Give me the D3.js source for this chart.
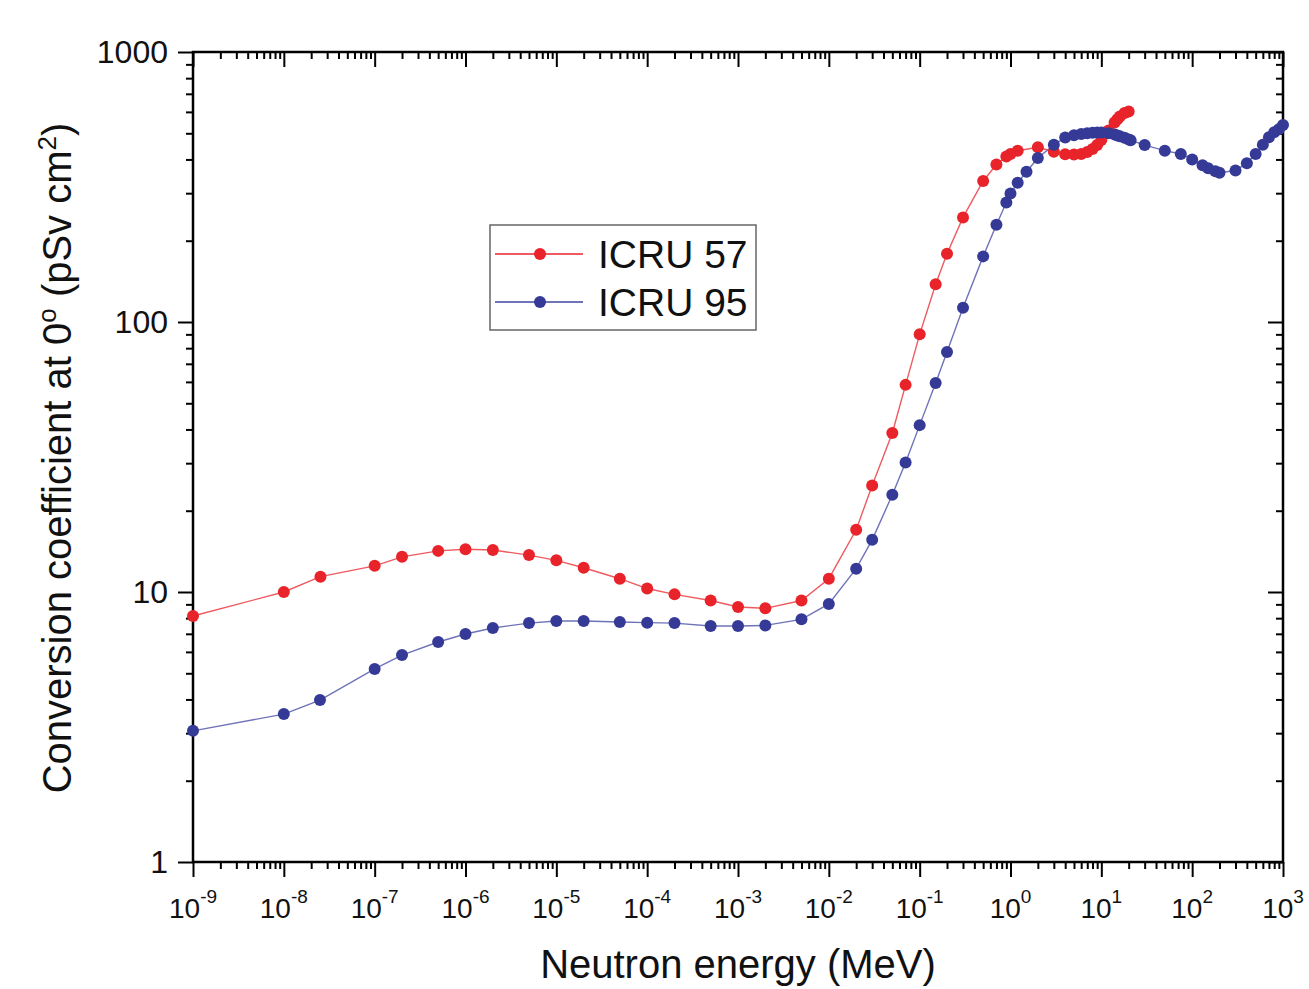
<!DOCTYPE html>
<html>
<head>
<meta charset="utf-8">
<script src="https://cdn.jsdelivr.net/npm/d3@7"></script>
<style>
  body { margin: 0; background: #fff; }
  svg { display: block; font-family: "Liberation Sans", Arial, sans-serif; }
</style>
</head>
<body>
<svg id="chart" width="1309" height="989"></svg>
<script>
// Neutron fluence-to-dose conversion coefficients at 0 degrees, ICRU 57 vs ICRU 95

// ICRU 57 series (energy in MeV, coefficient in pSv cm2)
const energies57 = [1e-9, 1e-8, 2.53e-8, 1e-7, 2e-7, 5e-7, 1e-6, 2e-6, 5e-6, 1e-5, 2e-5, 5e-5,
  1e-4, 2e-4, 5e-4, 1e-3, 2e-3, 5e-3, 1e-2, 2e-2, 3e-2, 5e-2, 7e-2, 0.1, 0.15, 0.2, 0.3, 0.5,
  0.7, 0.9, 1, 1.2, 2, 3, 4, 5, 6, 7, 8, 9, 10, 12, 14, 15, 16, 18, 20];
const values57 = [8.15, 10.0, 11.4, 12.5, 13.5, 14.2, 14.4, 14.3, 13.7, 13.1, 12.3, 11.2,
  10.3, 9.8, 9.3, 8.8, 8.7, 9.3, 11.2, 17.0, 24.8, 38.8, 58.5, 90, 138, 179, 244, 333,
  383, 410, 419, 431, 444, 427, 418, 417, 419, 426, 437, 452, 472, 512, 548, 564, 577, 594, 602];

// ICRU 95 series
const energies95 = [1e-9, 1e-8, 2.5e-8, 1e-7, 2e-7, 5e-7, 1e-6, 2e-6, 5e-6, 1e-5, 2e-5, 5e-5,
  1e-4, 2e-4, 5e-4, 1e-3, 2e-3, 5e-3, 1e-2, 2e-2, 3e-2, 5e-2, 7e-2, 0.1, 0.15, 0.2, 0.3, 0.5,
  0.7, 0.9, 1, 1.2, 1.5, 2, 3, 4, 5, 6, 7, 8, 9, 10, 12, 14, 15, 16, 18, 20, 21, 30, 50, 75,
  100, 130, 150, 180, 200, 300, 400, 500, 600, 700, 800, 900, 1000];
const values95 = [3.06, 3.53, 3.98, 5.19, 5.84, 6.53, 6.99, 7.36, 7.67, 7.81, 7.81, 7.74,
  7.70, 7.67, 7.48, 7.48, 7.52, 7.92, 9.03, 12.2, 15.6, 22.9, 30.2, 41.5, 59.4, 77.4, 113, 175,
  229, 277, 299, 328, 360, 405, 453, 482, 492, 497, 500, 502, 503, 503, 500, 495, 491, 487, 481, 474, 471, 452, 431, 419,
  400, 381, 371, 362, 357, 364, 387, 419, 453, 483, 504, 517, 537];

const seriesNames = ['ICRU 57', 'ICRU 95'];
const xExponents = [-9, -8, -7, -6, -5, -4, -3, -2, -1, 0, 1, 2, 3];
const yTickValues = [1, 10, 100, 1000];

const svg = d3.select('#chart');
const margin = { top: 52, right: 26, bottom: 127, left: 193 };
const width = 1309, height = 989;
const plotW = width - margin.left - margin.right;
const plotH = height - margin.top - margin.bottom;

const x = d3.scaleLog().domain([1e-9, 1e3]).range([margin.left, margin.left + plotW]);
const y = d3.scaleLog().domain([1, 1000]).range([margin.top + plotH, margin.top]);

const xMajors = xExponents.map(e => Math.pow(10, e));
const xMinors = [];
xExponents.slice(0, -1).forEach(e => {
    for (let k = 2; k <= 9; k++) xMinors.push(k * Math.pow(10, e));
});
const yMinors = [];
[0, 1, 2].forEach(e => {
    for (let k = 2; k <= 9; k++) yMinors.push(k * Math.pow(10, e));
});

// Draws one axis (major + minor ticks), no domain line
function drawAxis(axisFn, scale, translate, majors, minors, majorLen, minorLen) {
    const gMaj = svg.append('g').attr('transform', translate)
        .call(axisFn(scale).tickValues(majors).tickSize(majorLen).tickFormat(''));
    const gMin = svg.append('g').attr('transform', translate)
        .call(axisFn(scale).tickValues(minors).tickSize(minorLen).tickFormat(''));
    [gMaj, gMin].forEach(g => {
        g.select('.domain').remove();
        g.selectAll('line').attr('stroke', '#000').attr('stroke-width', 2);
    });
}

const bottomY = margin.top + plotH;
const rightX = margin.left + plotW;
drawAxis(d3.axisBottom, x, `translate(0,${bottomY})`, xMajors, xMinors, 15, 7);
drawAxis(d3.axisTop, x, `translate(0,${margin.top})`, xMajors, xMinors, -15, -7);
drawAxis(d3.axisLeft, y, `translate(${margin.left},0)`, yTickValues, yMinors, 15, 7);
drawAxis(d3.axisRight, y, `translate(${rightX},0)`, yTickValues, yMinors, -15, -7);

// Frame
svg.append('rect')
    .attr('x', margin.left).attr('y', margin.top)
    .attr('width', plotW).attr('height', plotH)
    .attr('fill', 'none').attr('stroke', '#000').attr('stroke-width', 2.5);

// X tick labels with superscript exponents
xExponents.forEach(e => {
    const t = svg.append('text')
        .attr('x', x(Math.pow(10, e)))
        .attr('y', 918)
        .attr('text-anchor', 'middle')
        .attr('font-size', 28)
        .attr('fill', '#111');
    t.append('tspan').text('10');
    t.append('tspan').attr('dy', -15).attr('font-size', 19).text(e < 0 ? '-' + (-e) : String(e));
});

// Y tick labels
yTickValues.forEach(v => {
    svg.append('text')
        .attr('x', 168)
        .attr('y', y(v) + 11)
        .attr('text-anchor', 'end')
        .attr('font-size', 32)
        .attr('fill', '#111')
        .text(String(v));
});

// Axis titles
svg.append('text')
    .attr('x', margin.left + plotW / 2)
    .attr('y', 978)
    .attr('text-anchor', 'middle')
    .attr('font-size', 40)
    .attr('fill', '#111')
    .text('Neutron energy (MeV)');

const yTitle = svg.append('text')
    .attr('transform', 'rotate(-90)')
    .attr('x', -458)
    .attr('y', 71)
    .attr('text-anchor', 'middle')
    .attr('font-size', 40)
    .attr('fill', '#111');
yTitle.append('tspan').text('Conversion coefficient at 0');
yTitle.append('tspan').attr('dy', -15).attr('font-size', 26).text('o');
yTitle.append('tspan').attr('dy', 15).text(' (pSv cm');
yTitle.append('tspan').attr('dy', -15).attr('font-size', 26).text('2');
yTitle.append('tspan').attr('dy', 15).text(')');

// Series
const colors = { marker: ['#e8232a', '#353a96'], line: ['#ee5a5f', '#6f73b8'] };
const seriesData = [
    energies57.map((e, i) => ({ e, v: values57[i] })),
    energies95.map((e, i) => ({ e, v: values95[i] }))
];

const line = d3.line().x(d => x(d.e)).y(d => y(d.v));

seriesData.forEach((data, s) => {
    svg.append('path')
        .datum(data)
        .attr('d', line)
        .attr('fill', 'none')
        .attr('stroke', colors.line[s])
        .attr('stroke-width', 1.4);
});
seriesData.forEach((data, s) => {
    svg.append('g')
        .selectAll('circle')
        .data(data)
        .enter()
        .append('circle')
        .attr('cx', d => x(d.e))
        .attr('cy', d => y(d.v))
        .attr('r', 6)
        .attr('fill', colors.marker[s]);
});

// Legend
const legend = svg.append('g').attr('transform', 'translate(490,225)');
legend.append('rect')
    .attr('width', 266).attr('height', 105)
    .attr('fill', '#fff').attr('stroke', '#666').attr('stroke-width', 1.5);
seriesNames.forEach((name, i) => {
    const ly = 29 + i * 48;
    legend.append('line')
        .attr('x1', 5).attr('x2', 93).attr('y1', ly).attr('y2', ly)
        .attr('stroke', colors.line[i]).attr('stroke-width', 2);
    legend.append('circle')
        .attr('cx', 50).attr('cy', ly).attr('r', 6)
        .attr('fill', colors.marker[i]);
    legend.append('text')
        .attr('x', 108).attr('y', ly + 14)
        .attr('font-size', 39)
        .attr('fill', '#111')
        .text(name);
});
</script>
</body>
</html>
